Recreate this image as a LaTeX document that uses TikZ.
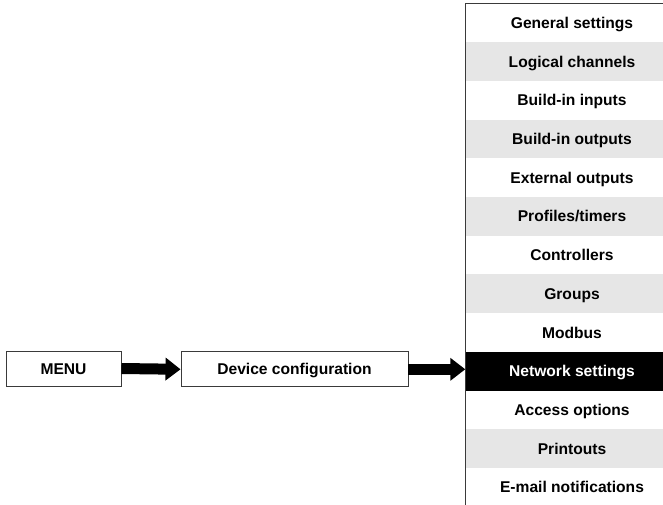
\documentclass[tikz,border=0pt]{standalone}
\usepackage{fontspec}
\setmainfont{Liberation Sans}
\usetikzlibrary{arrows.meta}
\definecolor{rowgray}{HTML}{E6E6E6}
\definecolor{edgegray}{HTML}{3A3A3A}
\begin{document}
\begin{tikzpicture}[x=1pt,y=-1pt,
  lbl/.style={font=\fontsize{15.6}{18}\selectfont\bfseries,text height=11.2pt,text depth=0pt},
  boxnode/.style={lbl,draw=edgegray,line width=0.9pt,fill=white,minimum height=35pt,inner sep=0pt},
  rownode/.style={lbl,minimum width=213pt,minimum height=38.7pt,inner sep=0pt,text=black},
  grayrow/.style={rownode,fill=rowgray},
  whiterow/.style={rownode},
  blackrow/.style={rownode,fill=black,text=white},
  fatarrow/.style={line width=11pt,-{Triangle[length=15pt,width=22pt]}}
]
\useasboundingbox (0,0) rectangle (663,505);
\node[boxnode,minimum width=115pt] (menu) at (63.5,368.5) {MENU};
\node[boxnode,minimum width=227pt] (dev) at (294.5,369.3) {Device configuration};
\foreach \k/\st/\t in {0/whiterow/{General settings},1/grayrow/{Logical channels},2/whiterow/{Build-in inputs},3/grayrow/{Build-in outputs},4/whiterow/{External outputs},5/grayrow/{Profiles/timers},6/whiterow/{Controllers},7/grayrow/{Groups},8/whiterow/{Modbus},9/blackrow/{Network settings},10/whiterow/{Access options},11/grayrow/{Printouts},12/whiterow/{E-mail notifications}}{
  \node[\st] (r\k) at (572,{3.5+(\k+0.5)*38.7}) {\t};
}
\draw[edgegray,line width=0.9pt] (r0.north east) -- (r0.north west) -- (r12.south west);
\draw[fatarrow] (menu.east) -- (dev.west);
\draw[fatarrow] (dev.east) -- (dev.east -| r9.west);
\end{tikzpicture}
\end{document}
